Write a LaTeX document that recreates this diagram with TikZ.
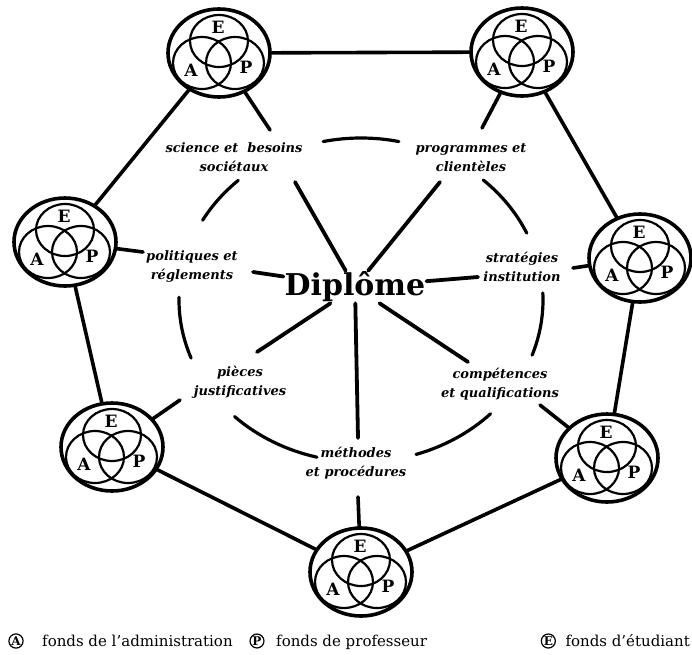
\documentclass[tikz,border=0pt]{standalone}
\usepackage{fontspec}
\setmainfont{DejaVu Serif}
\usetikzlibrary{shapes.geometric,calc}
\begin{document}
\begin{tikzpicture}[x=1pt,y=-1pt,
  ring/.style={line width=3.6pt,line cap=round},
  spoke/.style={line width=3.8pt,line cap=round},
  arcst/.style={line width=3.2pt,line cap=round},
  eapout/.style={ellipse,draw,line width=3.6pt,minimum width=102pt,minimum height=88pt,inner sep=0pt},
  eapl/.style={font=\fontsize{17}{17}\selectfont\bfseries,inner sep=0pt},
  lab/.style={font=\fontsize{13}{19}\selectfont\bfseries\itshape,align=center,inner sep=1pt},
  legsym/.style={circle,draw,line width=1.2pt,inner sep=0.5pt,font=\fontsize{12}{12}\selectfont\bfseries},
  legtxt/.style={font=\fontsize{15}{17}\selectfont,inner sep=0pt},
  eapin/.pic={
    \draw[line width=2.2pt] (0,-12) ellipse [x radius=29, y radius=26];
    \draw[line width=2.2pt] (-17,10) ellipse [x radius=29, y radius=26];
    \draw[line width=2.2pt] (16,10) ellipse [x radius=29, y radius=26];
    \node[eapl] (-e) at (-1,-26) {E};
    \node[eapl] (-a) at (-28,17) {A};
    \node[eapl] (-p) at (27,14) {P};
  }
]
\useasboundingbox (0,0) rectangle (692,654);

% EAP nodes
\node[eapout] (n1) at (219,53) {};
\node[eapout] (n2) at (522,52) {};
\node[eapout] (n3) at (640,258) {};
\node[eapout] (n4) at (65,242) {};
\node[eapout] (n5) at (112,447) {};
\node[eapout] (n6) at (607,458) {};
\node[eapout] (n7) at (361,572) {};
\foreach \n in {1,...,7} { \pic (p\n) at (n\n) {eapin}; }

% ring
\draw[ring] (n1) -- (n2);
\draw[ring] (n2) -- (n3);
\draw[ring] (n3) -- (n6);
\draw[ring] (n6) -- (n7);
\draw[ring] (n7) -- (n5);
\draw[ring] (n5) -- (n4);
\draw[ring] (n4) -- (n1);

% centre and labels
\node[font=\fontsize{30}{30}\selectfont\bfseries,inner sep=1pt] (dip) at (355,287) {Diplôme};
\node[lab] (l1) at (234,157) {science et\ \ besoins\\sociétaux};
\node[lab] (l2) at (471,158) {programmes et\\clientèles};
\node[lab] (l3) at (192,266) {politiques et\\réglements};
\node[lab] (l4) at (522,267) {stratégies\\institution};
\node[lab] (l5) at (240,382) {pièces\\justificatives};
\node[lab] (l6) at (500,384) {compétences\\et qualifications};
\node[lab] (l7) at (356,463) {méthodes\\et procédures};

% spoke ends near labels
\coordinate (s1) at (295,182);
\coordinate (s2) at (440,182);
\coordinate (s3) at (253,272);
\coordinate (s4) at (478,277);
\coordinate (s5) at (257,352);
\coordinate (s6) at (468,362);
\coordinate (s7) at (358,438);
\foreach \s in {1,...,7} { \draw[spoke] (dip) -- (s\s); }

% label to EAP connectors
\coordinate (c1) at (270,130);
\coordinate (c2) at (482,128);
\coordinate (c3) at (143,252);
\coordinate (c4) at (573,268);
\coordinate (c5) at (180,400);
\coordinate (c6) at (540,405);
\coordinate (c7) at (358,497);
\draw[ring] (c1) -- (n1);
\draw[ring] (c2) -- (n2);
\draw[ring] (c3) -- (n4);
\draw[ring] (c4) -- (n3);
\draw[ring] (c5) -- (n5);
\draw[ring] (c6) -- (n6);
\draw[ring] (c7) -- (n7);

% dashed ellipse arcs
\coordinate (ec) at (361,300);
\foreach \a/\b in {-102/-78, -150.5/-132.4, 159/181, 104/134, 44.6/72.4, -2.5/19.9, -47.8/-24.4}
  { \draw[arcst] (ec) ++(\a:182 and 162) arc[start angle=\a, end angle=\b, x radius=182, y radius=162]; }

% legend
\node[legsym] (syma) at (16,641) {A};
\node[legtxt,anchor=base west] (txta) at (42,646) {fonds de l'administration};
\node[legsym] (symp) at (257,641) {P};
\node[legtxt,anchor=base west] (txtp) at (276,646) {fonds de professeur};
\node[legtxt,anchor=base east] (txte) at (690,646) {fonds d'étudiant};
\node[legsym] (syme) at ($(txte.base west)+(-17,-5)$) {E};
\end{tikzpicture}
\end{document}
